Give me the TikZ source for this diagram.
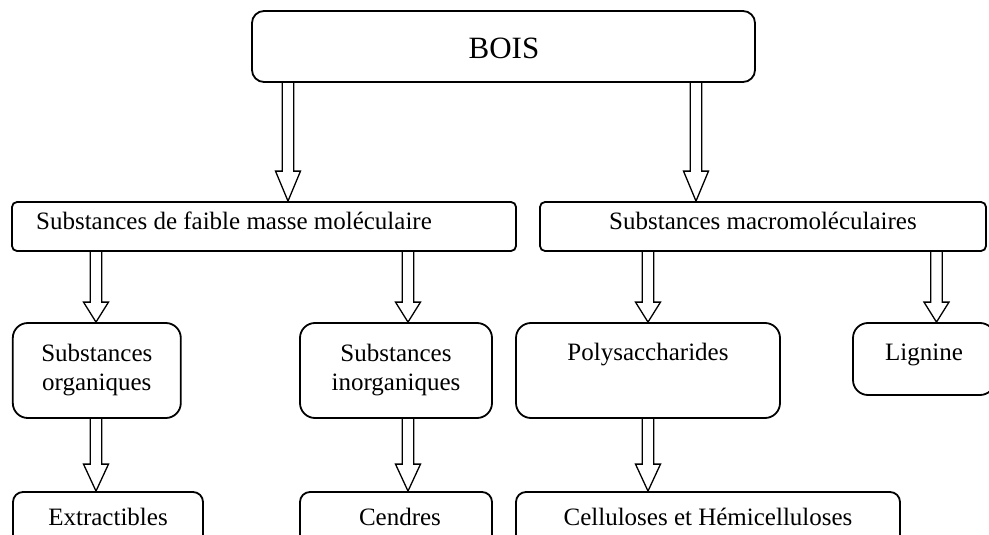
\documentclass[tikz,border=0pt]{standalone}
\usepackage{fontspec}
\setmainfont{Liberation Serif}
\usetikzlibrary{calc}
\newcommand\txtfont{\fontsize{25}{29}\selectfont}
\newcommand\boisfont{\fontsize{31}{36}\selectfont}
\tikzset{
  box/.style={draw, line width=1.8pt, rectangle, rounded corners=#1, inner sep=0pt},
  lbl/.style={font=\txtfont, inner sep=0pt, anchor=base},
  hl/.store in=\hlen, hl=28pt,
  harrow/.style={line width=1.3pt, to path={let \p1=(\tikztostart), \p2=(\tikztotarget) in
    (\x2-5.8pt,\y1) -- (\x2-5.8pt,\y2+\hlen) -- (\x2-12.5pt,\y2+\hlen) -- (\x2,\y2)
    -- (\x2+12.5pt,\y2+\hlen) -- (\x2+5.8pt,\y2+\hlen) -- (\x2+5.8pt,\y1)}},
}
\begin{document}
\begin{tikzpicture}[x=1pt, y=-1pt]
\useasboundingbox (0,0) rectangle (989,535);
\clip (0,0) rectangle (989,535);
% boxes
\node[box=12pt, minimum width=503pt, minimum height=71pt] (bois) at (503.5,46.5) {};
\node[box=5pt, minimum width=504pt, minimum height=49pt] (l2a) at (264,226.5) {};
\node[box=5pt, minimum width=446pt, minimum height=49pt] (l2b) at (763,226.5) {};
\node[box=15pt, minimum width=168pt, minimum height=95pt, font=\txtfont, align=center] (l3a) at (96.8,370.5) {Substances\\organiques};
\node[box=15pt, minimum width=192pt, minimum height=95pt, font=\txtfont, align=center] (l3b) at (396,370.5) {Substances\\inorganiques};
\node[box=15pt, minimum width=264pt, minimum height=95pt] (l3c) at (648,370.5) {};
\node[box=15pt, minimum width=142pt, minimum height=72pt] (l3d) at (924,359) {};
\node[box=10pt, minimum width=190pt, minimum height=53pt] (l4a) at (108,518.5) {};
\node[box=10pt, minimum width=192pt, minimum height=53pt] (l4b) at (396,518.5) {};
\node[box=10pt, minimum width=384pt, minimum height=53pt] (l4c) at (708,518.5) {};
% texts
\node[lbl, font=\boisfont] (tbois) at (504,59) {BOIS};
\node[lbl] (t2a) at (234,229) {Substances de faible masse moléculaire};
\node[lbl] (t2b) at (763,229) {Substances macromoléculaires};
\node[lbl] (t3c) at (648,360) {Polysaccharides};
\node[lbl] (t3d) at (924,360) {Lignine};
\node[lbl] (t4a) at (108,525) {Extractibles};
\node[lbl] (t4b) at (400,525) {Cendres};
\node[lbl] (t4c) at (708,525) {Celluloses et Hémicelluloses};
% arrow positions
\coordinate (a1) at (288,0);
\coordinate (a2) at (696,0);
\coordinate (a3) at (96,0);
\coordinate (a4) at (408,0);
\coordinate (a5) at (648,0);
\coordinate (a6) at (936.5,0);
% arrows
\draw[harrow, hl=30pt] (bois.south -| a1) to (l2a.north -| a1);
\draw[harrow, hl=30pt] (bois.south -| a2) to (l2b.north -| a2);
\draw[harrow, hl=20pt] (l2a.south -| a3) to (l3a.north -| a3);
\draw[harrow, hl=20pt] (l2a.south -| a4) to (l3b.north -| a4);
\draw[harrow, hl=20pt] (l2b.south -| a5) to (l3c.north -| a5);
\draw[harrow, hl=20pt] (l2b.south -| a6) to (l3d.north -| a6);
\draw[harrow, hl=27pt] (l3a.south -| a3) to (l4a.north -| a3);
\draw[harrow, hl=27pt] (l3b.south -| a4) to (l4b.north -| a4);
\draw[harrow, hl=27pt] (l3c.south -| a5) to (l4c.north -| a5);
\end{tikzpicture}
\end{document}
